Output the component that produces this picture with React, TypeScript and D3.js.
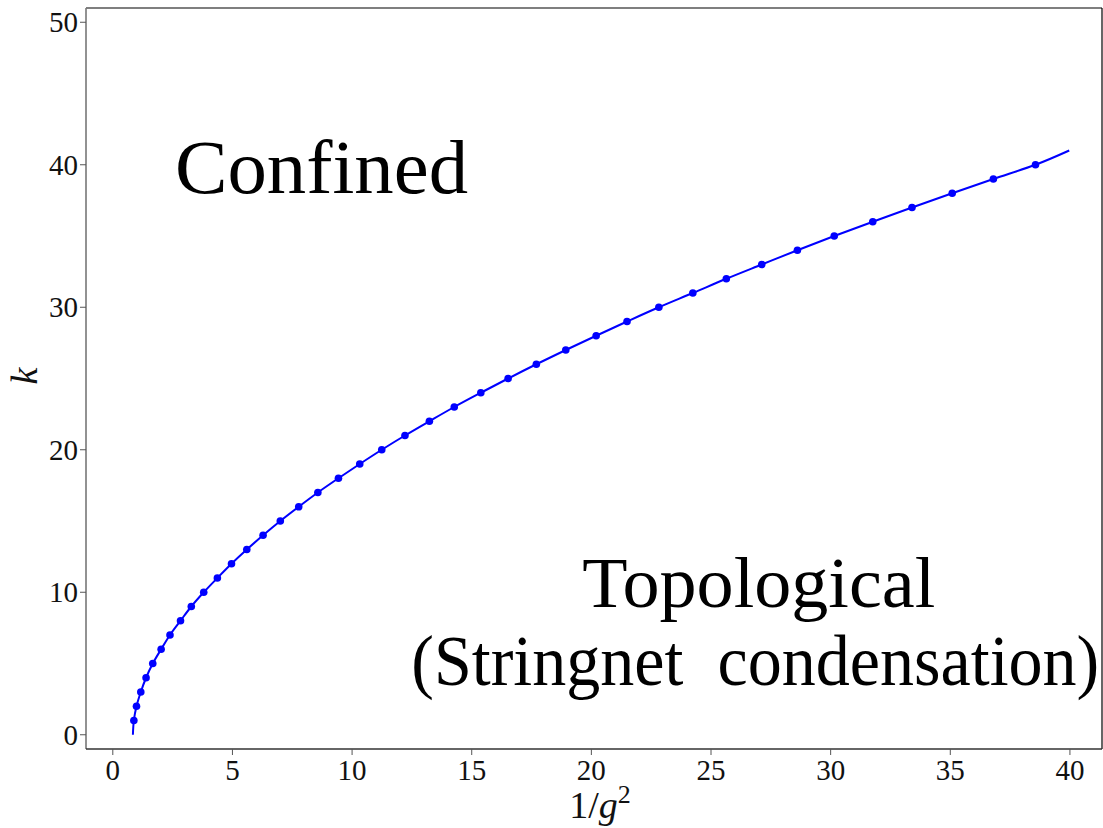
import React from "react";
import * as d3 from "d3";

const kValues = [1, 2, 3, 4, 5, 6, 7, 8, 9, 10, 11, 12, 13, 14, 15, 16, 17, 18, 19, 20,
  21, 22, 23, 24, 25, 26, 27, 28, 29, 30, 31, 32, 33, 34, 35, 36, 37, 38, 39, 40];
const invG2 = [0.88, 0.99, 1.17, 1.39, 1.67, 2.02, 2.39, 2.83, 3.28, 3.80,
  4.37, 4.96, 5.60, 6.28, 7.00, 7.77, 8.57, 9.43, 10.32, 11.24,
  12.21, 13.23, 14.27, 15.38, 16.52, 17.70, 18.93, 20.20, 21.49, 22.82,
  24.24, 25.64, 27.12, 28.61, 30.15, 31.76, 33.40, 35.08, 36.80, 38.56];
// fitted curve endpoints (line extends from k=0 to k=41)
const curveStart = { x: 0.84, k: 0 };
const curveEnd = { x: 39.97, k: 41 };

const xTicks = [0, 5, 10, 15, 20, 25, 30, 35, 40];
const yTicks = [0, 10, 20, 30, 40, 50];

const W = 1103, H = 828;
const L = 86, R = 1102, T = 8, B = 749;

export default function App() {
  const x = d3.scaleLinear().domain([-1.12, 41.34]).range([L, R]);
  const y = d3.scaleLinear().domain([-1, 51]).range([B, T]);

  const pts = kValues.map((k, i) => ({ x: invG2[i], k }));
  const linePts = [curveStart, ...pts, curveEnd];
  const line = d3.line<{ x: number; k: number }>()
    .x(d => x(d.x)).y(d => y(d.k)).curve(d3.curveMonotoneY);

  const font = "'Liberation Serif', 'DejaVu Serif', serif";

  return (
    <svg width={W} height={H} style={{ position: "absolute", left: 0, top: 0, background: "#fff" }}
      fontFamily={font}>
      <rect x={0} y={0} width={W} height={H} fill="#fff" />
      {/* line and points */}
      <path d={line(linePts) || ""} fill="none" stroke="#0000ff" strokeWidth={2} />
      {pts.map((p, i) => (
        <circle key={i} cx={x(p.x)} cy={y(p.k)} r={3.8} fill="#0000ff" />
      ))}
      {/* frame */}
      <line x1={L} y1={T} x2={R} y2={T} stroke="#000" strokeWidth={1.2} />
      <line x1={R} y1={T} x2={R} y2={B} stroke="#000" strokeWidth={1.2} />
      <line x1={L} y1={T} x2={L} y2={B} stroke="#777" strokeWidth={1.6} />
      <line x1={L} y1={B} x2={R} y2={B} stroke="#333" strokeWidth={1.6} />
      {/* x ticks */}
      {xTicks.map(t => (
        <g key={"x" + t}>
          <line x1={x(t)} x2={x(t)} y1={B} y2={B + 6} stroke="#555" strokeWidth={1} />
          <text x={x(t)} y={780} textAnchor="middle" fontSize={29} fill="#111">{t}</text>
        </g>
      ))}
      {/* y ticks */}
      {yTicks.map(t => (
        <g key={"y" + t}>
          <line x1={L - 6} x2={L} y1={y(t)} y2={y(t)} stroke="#555" strokeWidth={1} />
          <text x={L - 8} y={y(t) + 10} textAnchor="end" fontSize={29} fill="#111">{t}</text>
        </g>
      ))}
      {/* axis labels */}
      <text x={600} y={818} textAnchor="middle" fontSize={38} fill="#111">
        1/<tspan fontStyle="italic">g</tspan><tspan fontSize={26} dy={-15}>2</tspan>
      </text>
      <text transform={`translate(37, 376) rotate(-90)`} textAnchor="middle"
        fontSize={38} fontStyle="italic" fill="#111">k</text>
      {/* annotations */}
      <text x={x(2.6)} y={y(38)} fontSize={76} fill="#000" textLength={293} lengthAdjust="spacingAndGlyphs">Confined</text>
      <text x={x(27)} y={y(9)} textAnchor="middle" fontSize={72} fill="#000"
        textLength={353} lengthAdjust="spacingAndGlyphs">Topological</text>
      <text x={x(26.85)} y={y(3.5)} textAnchor="middle" fontSize={72} fill="#000"
        textLength={688} lengthAdjust="spacingAndGlyphs" xmlSpace="preserve">(Stringnet  condensation)</text>
    </svg>
  );
}
